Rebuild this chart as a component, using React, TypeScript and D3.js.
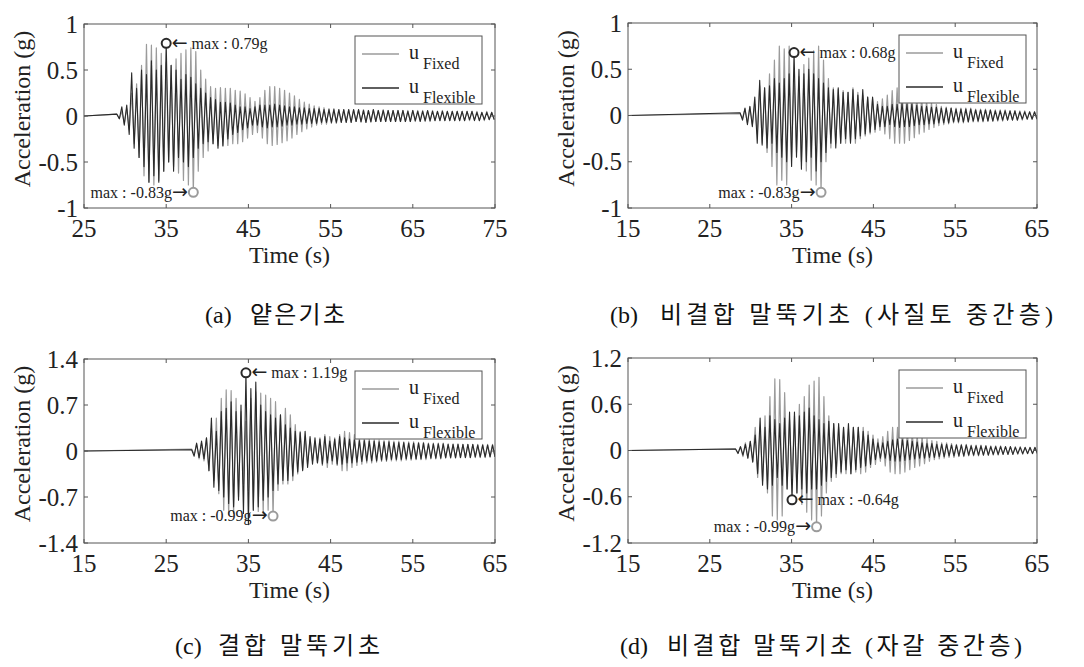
import React from 'react';
import * as d3 from 'd3';

const W = 1084;
const H = 667;

// ---- tick labels ----
const xTicksA = [25, 35, 45, 55, 65, 75];
const xTicksBCD = [15, 25, 35, 45, 55, 65];
const yTicksAB = [-1, -0.5, 0, 0.5, 1];
const yTicksC = [-1.4, -0.7, 0, 0.7, 1.4];
const yTicksD = [-1.2, -0.6, 0, 0.6, 1.2];

// ---- time of the first response peak (s) and spacing of successive peaks (s) ----
const firstPeakA = 29.0;
const firstPeakB = 28.7;
const firstPeakC = 28.1;
const firstPeakD = 28.15;
const peakSpacing = 0.3;

// ---- successive response peaks (g) ----
const fixedA = [
  0.02, -0.03, 0.05, -0.08, 0.08, -0.15, 0.25, -0.3, 0.35, -0.45,
  0.55, -0.65, 0.78, -0.72, 0.77, -0.75, 0.74, -0.7, 0.68, -0.6,
  0.58, -0.5, 0.55, -0.55, 0.62, -0.62, 0.68, -0.7, 0.72, -0.75,
  0.74, -0.83, 0.7, -0.6, 0.5, -0.45, 0.4, -0.38, 0.32, -0.3,
  0.3, -0.32, 0.31, -0.33, 0.3, -0.32, 0.3, -0.3, 0.28, -0.3,
  0.27, -0.28, 0.24, -0.24, 0.2, -0.2, 0.16, -0.18, 0.2, -0.24,
  0.28, -0.3, 0.32, -0.32, 0.32, -0.31, 0.3, -0.29, 0.28, -0.27,
  0.25, -0.24, 0.22, -0.2, 0.18, -0.17, 0.15, -0.14, 0.13, -0.12,
  0.11, -0.1, 0.1, -0.09, 0.09, -0.09, 0.08, -0.08, 0.08, -0.08,
  0.07, -0.07, 0.07, -0.07, 0.07, -0.07, 0.07, -0.06, 0.07, -0.07,
  0.07, -0.07, 0.06, -0.07, 0.07, -0.06, 0.06, -0.06, 0.07, -0.06,
  0.06, -0.06, 0.06, -0.06, 0.06, -0.06, 0.06, -0.06, 0.06, -0.06,
  0.06, -0.06, 0.06, -0.05, 0.06, -0.06, 0.05, -0.06, 0.06, -0.05,
  0.05, -0.05, 0.06, -0.05, 0.05, -0.05, 0.05, -0.05, 0.05, -0.05,
  0.05, -0.05, 0.05, -0.05, 0.05, -0.04, 0.05, -0.05, 0.04, -0.05,
  0.05, -0.04, 0.04, -0.04,
];
const flexibleA = [
  0.02, -0.03, 0.1, -0.1, 0.12, -0.2, 0.47, -0.35, 0.3, -0.45,
  0.5, -0.55, 0.45, -0.72, 0.6, -0.65, 0.5, -0.72, 0.55, -0.6,
  0.79, -0.5, 0.55, -0.6, 0.5, -0.45, 0.4, -0.5, 0.45, -0.55,
  0.42, -0.45, 0.35, -0.35, 0.3, -0.3, 0.25, -0.28, 0.2, -0.3,
  0.18, -0.35, 0.15, -0.32, 0.15, -0.25, 0.14, -0.2, 0.12, -0.18,
  0.1, -0.15, 0.1, -0.13, 0.08, -0.1, 0.1, -0.1, 0.12, -0.12,
  0.12, -0.13, 0.12, -0.12, 0.13, -0.12, 0.12, -0.11, 0.11, -0.1,
  0.1, -0.1, 0.1, -0.09, 0.09, -0.09, 0.09, -0.08, 0.08, -0.08,
  0.08, -0.08, 0.08, -0.07, 0.07, -0.07, 0.07, -0.07, 0.07, -0.07,
  0.07, -0.07, 0.07, -0.07, 0.07, -0.07, 0.07, -0.06, 0.07, -0.06,
  0.06, -0.07, 0.06, -0.06, 0.07, -0.06, 0.06, -0.06, 0.06, -0.06,
  0.06, -0.06, 0.06, -0.06, 0.06, -0.06, 0.06, -0.06, 0.05, -0.06,
  0.06, -0.05, 0.05, -0.06, 0.05, -0.05, 0.06, -0.05, 0.05, -0.05,
  0.05, -0.05, 0.05, -0.05, 0.05, -0.05, 0.05, -0.05, 0.05, -0.05,
  0.05, -0.05, 0.05, -0.04, 0.05, -0.05, 0.04, -0.05, 0.04, -0.04,
  0.04, -0.04, 0.04, -0.04,
];

const fixedB = [
  0.02, -0.03, 0.07, -0.08, 0.09, -0.1, 0.12, -0.2, 0.32, -0.3,
  0.3, -0.4, 0.45, -0.55, 0.6, -0.75, 0.75, -0.7, 0.72, -0.75,
  0.75, -0.45, 0.45, -0.4, 0.42, -0.5, 0.55, -0.6, 0.62, -0.7,
  0.7, -0.75, 0.75, -0.83, 0.6, -0.5, 0.4, -0.35, 0.3, -0.3,
  0.28, -0.3, 0.27, -0.3, 0.25, -0.28, 0.3, -0.3, 0.25, -0.25,
  0.22, -0.22, 0.2, -0.2, 0.18, -0.18, 0.15, -0.16, 0.18, -0.2,
  0.22, -0.25, 0.27, -0.3, 0.3, -0.3, 0.3, -0.3, 0.28, -0.27,
  0.25, -0.24, 0.22, -0.2, 0.2, -0.18, 0.16, -0.15, 0.14, -0.13,
  0.12, -0.11, 0.1, -0.1, 0.09, -0.09, 0.08, -0.08, 0.08, -0.08,
  0.08, -0.08, 0.08, -0.07, 0.08, -0.07, 0.07, -0.07, 0.07, -0.07,
  0.07, -0.06, 0.06, -0.06, 0.06, -0.06, 0.06, -0.06, 0.06, -0.05,
  0.05, -0.05, 0.05, -0.05, 0.05, -0.05, 0.05, -0.04, 0.04, -0.04,
  0.04, -0.04,
];
const flexibleB = [
  0.03, -0.05, 0.08, -0.1, 0.1, -0.12, 0.2, -0.3, 0.38, -0.32,
  0.3, -0.35, 0.32, -0.3, 0.4, -0.4, 0.35, -0.45, 0.4, -0.5,
  0.45, -0.55, 0.68, -0.45, 0.5, -0.58, 0.45, -0.5, 0.5, -0.45,
  0.45, -0.6, 0.4, -0.5, 0.35, -0.4, 0.3, -0.3, 0.28, -0.35,
  0.3, -0.3, 0.25, -0.25, 0.25, -0.3, 0.28, -0.25, 0.22, -0.22,
  0.28, -0.2, 0.2, -0.18, 0.2, -0.15, 0.12, -0.12, 0.1, -0.12,
  0.1, -0.1, 0.12, -0.12, 0.12, -0.13, 0.13, -0.12, 0.12, -0.12,
  0.12, -0.11, 0.11, -0.1, 0.1, -0.1, 0.1, -0.09, 0.09, -0.09,
  0.09, -0.08, 0.08, -0.08, 0.08, -0.08, 0.08, -0.07, 0.07, -0.07,
  0.07, -0.07, 0.07, -0.07, 0.07, -0.06, 0.06, -0.06, 0.06, -0.06,
  0.06, -0.06, 0.06, -0.06, 0.05, -0.05, 0.05, -0.05, 0.05, -0.05,
  0.05, -0.05, 0.05, -0.05, 0.04, -0.04, 0.04, -0.04, 0.04, -0.04,
  0.04, -0.04,
];

const fixedC = [
  0.03, -0.05, 0.1, -0.12, 0.12, -0.15, 0.2, -0.3, 0.35, -0.45,
  0.5, -0.65, 0.8, -0.9, 0.93, -0.97, 0.92, -0.95, 0.8, -0.7,
  0.6, -0.5, 0.45, -0.6, 0.8, -0.9, 0.9, -0.92, 0.88, -0.95,
  0.85, -0.9, 0.8, -0.99, 0.75, -0.6, 0.55, -0.5, 0.65, -0.5,
  0.55, -0.45, 0.4, -0.35, 0.3, -0.28, 0.22, -0.2, 0.18, -0.15,
  0.15, -0.18, 0.2, -0.22, 0.25, -0.25, 0.22, -0.2, 0.2, -0.22,
  0.25, -0.3, 0.3, -0.3, 0.28, -0.25, 0.25, -0.22, 0.2, -0.2,
  0.2, -0.18, 0.18, -0.18, 0.17, -0.17, 0.17, -0.16, 0.16, -0.16,
  0.16, -0.15, 0.15, -0.15, 0.15, -0.15, 0.14, -0.14, 0.14, -0.14,
  0.14, -0.13, 0.13, -0.13, 0.13, -0.13, 0.12, -0.12, 0.12, -0.12,
  0.12, -0.12, 0.12, -0.11, 0.11, -0.11, 0.11, -0.11, 0.11, -0.1,
  0.1, -0.1, 0.1, -0.1, 0.1, -0.1, 0.1, -0.1, 0.1, -0.1,
  0.1, -0.09, 0.1, -0.09,
];
const flexibleC = [
  0.02, -0.08, 0.12, -0.1, 0.15, -0.12, 0.2, -0.3, 0.5, -0.55,
  0.3, -0.6, 0.6, -0.7, 0.65, -0.8, 0.75, -0.85, 0.6, -0.75,
  0.7, -0.95, 1.19, -1.12, 0.95, -0.9, 1.05, -0.85, 0.7, -0.75,
  0.6, -0.7, 0.55, -0.6, 0.5, -0.5, 0.55, -0.45, 0.4, -0.45,
  0.35, -0.38, 0.3, -0.32, 0.28, -0.3, 0.3, -0.25, 0.22, -0.2,
  0.2, -0.18, 0.18, -0.2, 0.22, -0.18, 0.15, -0.15, 0.18, -0.2,
  0.22, -0.2, 0.2, -0.18, 0.18, -0.18, 0.17, -0.17, 0.16, -0.16,
  0.16, -0.15, 0.15, -0.15, 0.15, -0.15, 0.14, -0.14, 0.14, -0.14,
  0.14, -0.13, 0.13, -0.13, 0.13, -0.13, 0.13, -0.12, 0.12, -0.12,
  0.12, -0.12, 0.12, -0.12, 0.12, -0.11, 0.11, -0.11, 0.11, -0.11,
  0.11, -0.11, 0.11, -0.1, 0.1, -0.1, 0.1, -0.1, 0.1, -0.1,
  0.1, -0.1, 0.1, -0.1, 0.1, -0.09, 0.09, -0.09, 0.09, -0.09,
  0.09, -0.09, 0.09, -0.09,
];

const fixedD = [
  0.02, -0.03, 0.05, -0.08, 0.1, -0.1, 0.12, -0.15, 0.3, -0.35,
  0.3, -0.4, 0.45, -0.55, 0.7, -0.85, 0.93, -0.9, 0.92, -0.85,
  0.75, -0.5, 0.4, -0.35, 0.45, -0.55, 0.6, -0.7, 0.7, -0.8,
  0.85, -0.9, 0.9, -0.99, 0.95, -0.85, 0.7, -0.55, 0.45, -0.4,
  0.35, -0.35, 0.3, -0.3, 0.3, -0.3, 0.28, -0.3, 0.3, -0.28,
  0.3, -0.3, 0.3, -0.28, 0.25, -0.22, 0.2, -0.18, 0.15, -0.14,
  0.18, -0.2, 0.25, -0.28, 0.3, -0.3, 0.3, -0.3, 0.28, -0.28,
  0.26, -0.25, 0.24, -0.22, 0.2, -0.2, 0.18, -0.17, 0.15, -0.14,
  0.13, -0.12, 0.12, -0.11, 0.1, -0.1, 0.1, -0.09, 0.09, -0.09,
  0.08, -0.08, 0.08, -0.08, 0.08, -0.07, 0.07, -0.07, 0.07, -0.07,
  0.07, -0.06, 0.06, -0.06, 0.06, -0.06, 0.06, -0.06, 0.06, -0.05,
  0.05, -0.05, 0.05, -0.05, 0.05, -0.05, 0.05, -0.05, 0.04, -0.04,
  0.04, -0.04, 0.04, -0.04,
];
const flexibleD = [
  0.02, -0.04, 0.05, -0.06, 0.08, -0.1, 0.12, -0.15, 0.2, -0.3,
  0.42, -0.45, 0.3, -0.5, 0.45, -0.45, 0.4, -0.35, 0.35, -0.45,
  0.42, -0.5, 0.5, -0.64, 0.5, -0.55, 0.45, -0.5, 0.5, -0.55,
  0.55, -0.5, 0.45, -0.5, 0.4, -0.45, 0.35, -0.4, 0.38, -0.35,
  0.35, -0.3, 0.35, -0.28, 0.3, -0.25, 0.35, -0.3, 0.3, -0.25,
  0.3, -0.22, 0.25, -0.2, 0.2, -0.18, 0.15, -0.12, 0.1, -0.1,
  0.1, -0.1, 0.12, -0.13, 0.14, -0.14, 0.15, -0.14, 0.14, -0.13,
  0.13, -0.12, 0.12, -0.11, 0.11, -0.1, 0.1, -0.1, 0.09, -0.09,
  0.09, -0.09, 0.08, -0.08, 0.08, -0.08, 0.08, -0.07, 0.07, -0.07,
  0.07, -0.07, 0.07, -0.07, 0.07, -0.06, 0.06, -0.06, 0.06, -0.06,
  0.06, -0.06, 0.06, -0.06, 0.05, -0.05, 0.05, -0.05, 0.05, -0.05,
  0.05, -0.05, 0.05, -0.05, 0.04, -0.04, 0.04, -0.04, 0.04, -0.04,
  0.04, -0.04, 0.04, -0.04,
];

// ---- text ----
const captionA = '(a) 얕은기초';
const captionB = '(b) 비결합 말뚝기초 (사질토 중간층)';
const captionC = '(c) 결합 말뚝기초';
const captionD = '(d) 비결합 말뚝기초 (자갈 중간층)';
const seriesNames = ['Fixed', 'Flexible'];
const xTitle = 'Time (s)';
const yTitle = 'Acceleration (g)';

// ---- styling ----
const SERIF = "'Liberation Serif', 'Times New Roman', serif";
const CAPTION_FONT = "'Liberation Serif', 'Noto Sans CJK KR', serif";
const ARROW_FONT = "'DejaVu Sans', sans-serif";
const FIXED_COLOR = '#9b9b9b';
const FLEX_COLOR = '#2a2a2a';
const AXIS_COLOR = '#555';
const TEXT_COLOR = '#222';

const panels = [
  { id: 'a', left: 84, top: 24, width: 411, height: 184, xDomain: [25, 75], xTicks: xTicksA, yTicks: yTicksAB, t0: firstPeakA, fixed: fixedA, flexible: flexibleA, caption: captionA, capX: 205, capBodyX: 250, capBodyW: 95, capY: 323 },
  { id: 'b', left: 628, top: 23, width: 409, height: 185, xDomain: [15, 65], xTicks: xTicksBCD, yTicks: yTicksAB, t0: firstPeakB, fixed: fixedB, flexible: flexibleB, caption: captionB, capX: 610, capBodyX: 660, capBodyW: 393, capY: 323 },
  { id: 'c', left: 84, top: 359, width: 411, height: 184, xDomain: [15, 65], xTicks: xTicksBCD, yTicks: yTicksC, t0: firstPeakC, fixed: fixedC, flexible: flexibleC, caption: captionC, capX: 175, capBodyX: 218, capBodyW: 162, capY: 654 },
  { id: 'd', left: 628, top: 358, width: 409, height: 185, xDomain: [15, 65], xTicks: xTicksBCD, yTicks: yTicksD, t0: firstPeakD, fixed: fixedD, flexible: flexibleD, caption: captionD, capX: 620, capBodyX: 667, capBodyW: 355, capY: 654 },
];

function Panel({ p }: { p: any }) {
  const x = d3.scaleLinear().domain(p.xDomain).range([p.left, p.left + p.width]);
  const yMax = p.yTicks[p.yTicks.length - 1];
  const y = d3.scaleLinear().domain([-yMax, yMax]).range([p.top + p.height, p.top]);
  const toPoints = (vals: number[]) => [
    [p.xDomain[0], 0] as [number, number],
    ...vals.map((v, i) => [p.t0 + i * peakSpacing, v] as [number, number]),
  ];
  const line = d3.line<[number, number]>().x((d) => x(d[0])).y((d) => y(d[1]));
  const fixedPts = toPoints(p.fixed);
  const flexPts = toPoints(p.flexible);
  const iFix = d3.maxIndex(p.fixed, (v: number) => Math.abs(v));
  const iFlex = d3.maxIndex(p.flexible, (v: number) => Math.abs(v));
  const fixPk = fixedPts[iFix + 1];
  const flexPk = flexPts[iFlex + 1];
  const clipId = `clip-${p.id}`;
  const tick = 4;
  const bottom = p.top + p.height;
  const right = p.left + p.width;
  const cy = p.top + p.height / 2;
  const lg = { x: p.left + 271, y: p.top + 12, w: 127, h: 68 };
  const sp = p.caption.indexOf(' ');
  const capPrefix = p.caption.slice(0, sp);
  const capBody = p.caption.slice(sp + 1);

  return (
    <g>
      <defs>
        <clipPath id={clipId}>
          <rect x={p.left} y={p.top} width={p.width} height={p.height} />
        </clipPath>
      </defs>
      <rect x={p.left} y={p.top} width={p.width} height={p.height} fill="#fff" />
      <g clipPath={`url(#${clipId})`}>
        <path d={line(fixedPts) || ''} fill="none" stroke={FIXED_COLOR} strokeWidth={1.2} strokeLinejoin="round" />
        <path d={line(flexPts) || ''} fill="none" stroke={FLEX_COLOR} strokeWidth={1.1} strokeLinejoin="round" />
      </g>
      <rect x={p.left} y={p.top} width={p.width} height={p.height} fill="none" stroke={AXIS_COLOR} strokeWidth={1} />
      {p.xTicks.map((t: number) => (
        <g key={`xt${t}`}>
          <line x1={x(t)} x2={x(t)} y1={bottom} y2={bottom - tick} stroke={AXIS_COLOR} />
          <line x1={x(t)} x2={x(t)} y1={p.top} y2={p.top + tick} stroke={AXIS_COLOR} />
          <text x={x(t)} y={bottom + 29} textAnchor="middle" fontFamily={SERIF} fontSize={25} fill={TEXT_COLOR}>{t}</text>
        </g>
      ))}
      {p.yTicks.map((t: number) => (
        <g key={`yt${t}`}>
          <line x1={p.left} x2={p.left + tick} y1={y(t)} y2={y(t)} stroke={AXIS_COLOR} />
          <line x1={right} x2={right - tick} y1={y(t)} y2={y(t)} stroke={AXIS_COLOR} />
          <text x={p.left - 6} y={y(t)} dy="0.34em" textAnchor="end" fontFamily={SERIF} fontSize={25} fill={TEXT_COLOR}>{String(t)}</text>
        </g>
      ))}
      <text x={p.left + p.width / 2} y={bottom + 55} textAnchor="middle" fontFamily={SERIF} fontSize={24} fill={TEXT_COLOR}>{xTitle}</text>
      <text transform={`translate(${p.left - 54},${cy - 7}) rotate(-90)`} textAnchor="middle" fontFamily={SERIF} fontSize={24} fill={TEXT_COLOR}>{yTitle}</text>

      {/* peak annotations */}
      <circle cx={x(flexPk[0])} cy={y(flexPk[1])} r={4.5} fill="#fff" stroke={FLEX_COLOR} strokeWidth={2} />
      <text x={x(flexPk[0]) + 5.5} y={y(flexPk[1])} dy="0.33em" fontFamily={SERIF} fontSize={16} fill={TEXT_COLOR}>
        <tspan fontFamily={ARROW_FONT} fontSize={19}>←</tspan>
        <tspan>{` max : ${flexPk[1].toFixed(2)}g`}</tspan>
      </text>
      <circle cx={x(fixPk[0])} cy={y(fixPk[1])} r={4.5} fill="#fff" stroke={FIXED_COLOR} strokeWidth={2} />
      <text x={x(fixPk[0]) - 5.5} y={y(fixPk[1])} dy="0.33em" textAnchor="end" fontFamily={SERIF} fontSize={16} fill={TEXT_COLOR}>
        <tspan>{`max : ${fixPk[1].toFixed(2)}g`}</tspan>
        <tspan fontFamily={ARROW_FONT} fontSize={19}>→</tspan>
      </text>

      {/* legend */}
      <rect x={lg.x} y={lg.y} width={lg.w} height={lg.h} fill="#fff" stroke={AXIS_COLOR} strokeWidth={1} />
      {seriesNames.map((name, i) => {
        const ly = lg.y + 18 + i * 34;
        return (
          <g key={name}>
            <line x1={lg.x + 7} x2={lg.x + 44} y1={ly} y2={ly} stroke={i === 0 ? FIXED_COLOR : FLEX_COLOR} strokeWidth={1.3} />
            <text x={lg.x + 54} y={ly + 5} fontFamily={SERIF} fontSize={20} fill={TEXT_COLOR}>u</text>
            <text x={lg.x + 68} y={ly + 15} fontFamily={SERIF} fontSize={16} fill={TEXT_COLOR}>{name}</text>
          </g>
        );
      })}

      {/* caption */}
      <text x={p.capX} y={p.capY} fontFamily={CAPTION_FONT} fontSize={24} fill="#111">{capPrefix}</text>
      <text x={p.capBodyX} y={p.capY} fontFamily={CAPTION_FONT} fontSize={24} fill="#111" textLength={p.capBodyW} lengthAdjust="spacing">{capBody}</text>
    </g>
  );
}

export default function App() {
  return (
    <svg width={W} height={H} viewBox={`0 0 ${W} ${H}`} style={{ position: 'absolute', left: 0, top: 0, background: '#fff' }}>
      <rect width={W} height={H} fill="#fff" />
      {panels.map((p) => (
        <Panel key={p.id} p={p} />
      ))}
    </svg>
  );
}
